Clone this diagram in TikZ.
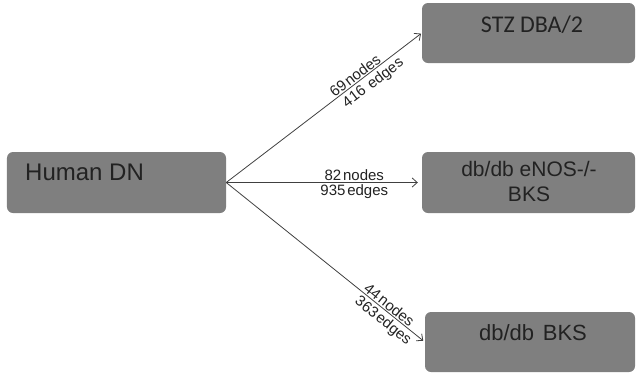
\documentclass[tikz,border=0pt]{standalone}
\usepackage{fontspec}
\setmainfont{Liberation Sans}
\newfontfamily\calibrifont{Carlito}
\usetikzlibrary{arrows.meta}
\definecolor{boxgray}{HTML}{7F7F7F}
\definecolor{txtgray}{HTML}{222222}
\definecolor{linegray}{HTML}{404040}
\tikzset{
  boxnode/.style={draw=none, fill=boxgray, rounded corners=6bp, inner sep=0pt},
  boxtext/.style={text=txtgray, inner sep=0pt, anchor=base},
  conn/.style={draw=linegray, line width=0.8bp, -{Straight Barb[length=5bp,width=9bp,line width=0.8bp]}},
  lab/.style={text=txtgray, font=\fontsize{15bp}{17bp}\selectfont, inner sep=0.5bp, sloped}
}
\begin{document}
\begin{tikzpicture}[x=1bp,y=-1bp]
\useasboundingbox (0,0) rectangle (636,373);
% boxes
\node[boxnode, minimum width=219bp, minimum height=61bp] (human) at (116.5,182.5) {};
\node[boxnode, minimum width=213bp, minimum height=60bp] (stz) at (528.5,33) {};
\node[boxnode, minimum width=213bp, minimum height=61bp] (enos) at (528.5,182.5) {};
\node[boxnode, minimum width=210bp, minimum height=60bp] (bks) at (530,342) {};
% texts
\node[boxtext, anchor=base west, font=\fontsize{24bp}{28bp}\selectfont] (humant) at (25,180) {Human DN};
\node[boxtext, font=\calibrifont\fontsize{24bp}{28bp}\selectfont] (stzt) at (532,32) {STZ DBA/2};
\node[boxtext, font=\fontsize{21bp}{25bp}\selectfont] (enost1) at (529,176.7) {db/db eNOS-/-};
\node[boxtext, font=\fontsize{21bp}{25bp}\selectfont] (enost2) at (529,201.7) {BKS};
\node[boxtext, font=\fontsize{22bp}{26bp}\selectfont] (bkst) at (533,340.7) {db/db\hspace{0.4em}BKS};
% connectors
\draw[conn, shorten >=1bp] (human.east) -- (stz.west)
  node[lab, pos=0.68, above=0.5bp] {69\hspace{0.12em}nodes}
  node[lab, pos=0.72, below=2.5bp] {416\hspace{0.4em}edges};
\draw[conn, shorten >=4bp] (human.east) -- (enos.west)
  node[lab, pos=0.655, above=0.5bp] {82\hspace{0.12em}nodes}
  node[lab, pos=0.655, below=1.5bp] {935\hspace{0.12em}edges};
\draw[conn, shorten >=2bp] (human.east) -- (bks.west)
  node[lab, pos=0.80, above=0.5bp] {44\hspace{0.12em}nodes}
  node[lab, pos=0.82, below=2bp] {363\hspace{0.12em}edges};
\end{tikzpicture}
\end{document}
